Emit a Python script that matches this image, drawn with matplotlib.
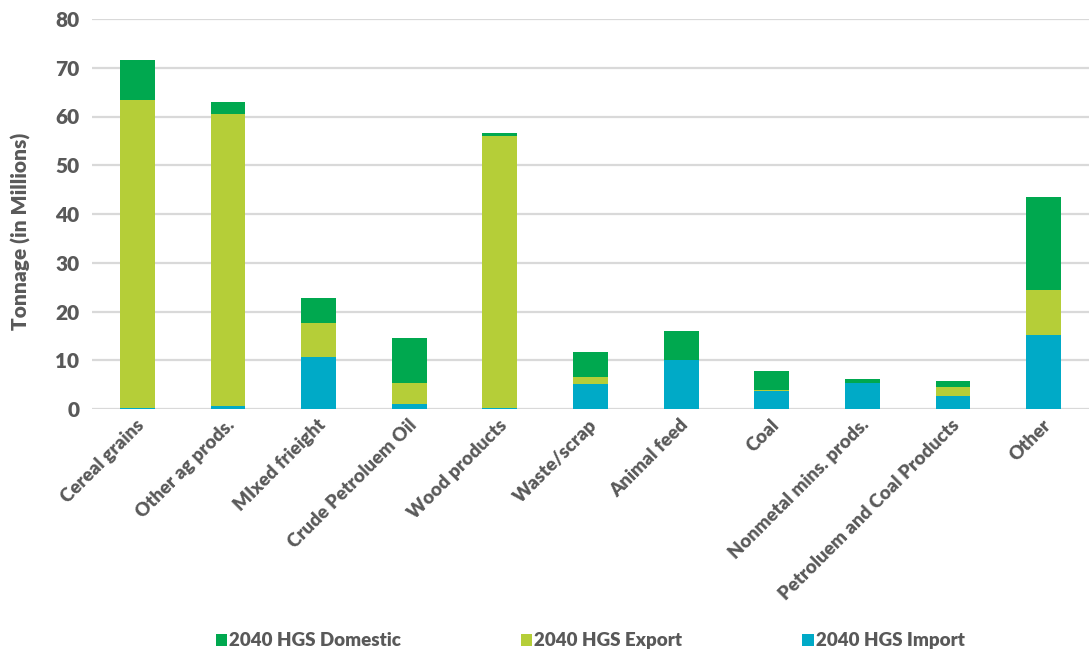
import numpy as np
import matplotlib.pyplot as plt
import matplotlib.transforms as mtransforms

# ---- data (million tons, 2040 HGS) ----
categories = ["Cereal grains", "Other ag prods.", "MIxed frieight",
              "Crude Petroluem Oil", "Wood products", "Waste/scrap",
              "Animal feed", "Coal", "Nonmetal mins. prods.",
              "Petroluem and Coal Products", "Other"]
hgs_import   = [0.3, 0.7, 10.7, 1.0, 0.2, 5.2, 10.0, 3.6, 5.3, 2.7, 15.1]
hgs_export   = [63.1, 59.8, 6.9, 4.3, 55.7, 1.4, 0.1, 0.4, 0.0, 1.8, 9.3]
hgs_domestic = [8.1, 2.5, 5.1, 9.3, 0.8, 5.0, 5.9, 3.8, 0.9, 1.3, 19.1]

series_names = ["2040 HGS Domestic", "2040 HGS Export", "2040 HGS Import"]
colors = {"dom": "#00A84F", "exp": "#B5CE38", "imp": "#00AAC7"}
text_col = "#595959"
WT = 'heavy'

plt.rcParams['font.family'] = ['Lato', 'DejaVu Sans']
plt.rcParams['font.weight'] = WT

fig = plt.figure(figsize=(10.89, 6.54), dpi=100)
ax = fig.add_axes([92/1089, 1 - 409/654, (1089 - 92)/1089, 390/654])

x = np.arange(len(categories))
w = 0.385
imp = np.array(hgs_import)
exp = np.array(hgs_export)
dom = np.array(hgs_domestic)

b_imp = ax.bar(x, imp, w, color=colors["imp"], zorder=3)
b_exp = ax.bar(x, exp, w, bottom=imp, color=colors["exp"], zorder=3)
b_dom = ax.bar(x, dom, w, bottom=imp + exp, color=colors["dom"], zorder=3)

ax.set_xlim(-0.5, len(categories) - 0.5)
ax.set_ylim(0, 80)
ax.set_yticks(np.arange(0, 81, 10))
ax.set_yticklabels([str(v) for v in range(0, 81, 10)], fontsize=15,
                   fontweight=WT, color=text_col)
ax.grid(axis='y', color='#D9D9D9', lw=1.6, zorder=0)
for s in ax.spines.values():
    s.set_visible(False)
ax.tick_params(axis='both', length=0, colors=text_col)
ax.tick_params(axis='y', pad=9)

ax.set_xticks(x)
ax.set_xticklabels(categories, rotation=45, ha='right', va='center',
                   rotation_mode='anchor', fontsize=13.5, fontweight=WT,
                   color=text_col)
offset = mtransforms.ScaledTranslation(3/72, -6/72, fig.dpi_scale_trans)
for lbl in ax.get_xticklabels():
    lbl.set_transform(lbl.get_transform() + offset)

ax.set_ylabel("Tonnage (in Millions)", fontsize=15, fontweight=WT,
              color=text_col)
ax.yaxis.set_label_coords(-0.061, 0.456)

leg = fig.legend([b_dom, b_exp, b_imp], series_names, loc='center',
                 bbox_to_anchor=(0.542, 0.02), ncol=3, frameon=False,
                 handlelength=0.6, handleheight=0.6, handletextpad=0.12,
                 columnspacing=6.4, prop={'size': 13.5, 'weight': WT})
for t in leg.get_texts():
    t.set_color(text_col)

fig.savefig("out.png", dpi=100)
